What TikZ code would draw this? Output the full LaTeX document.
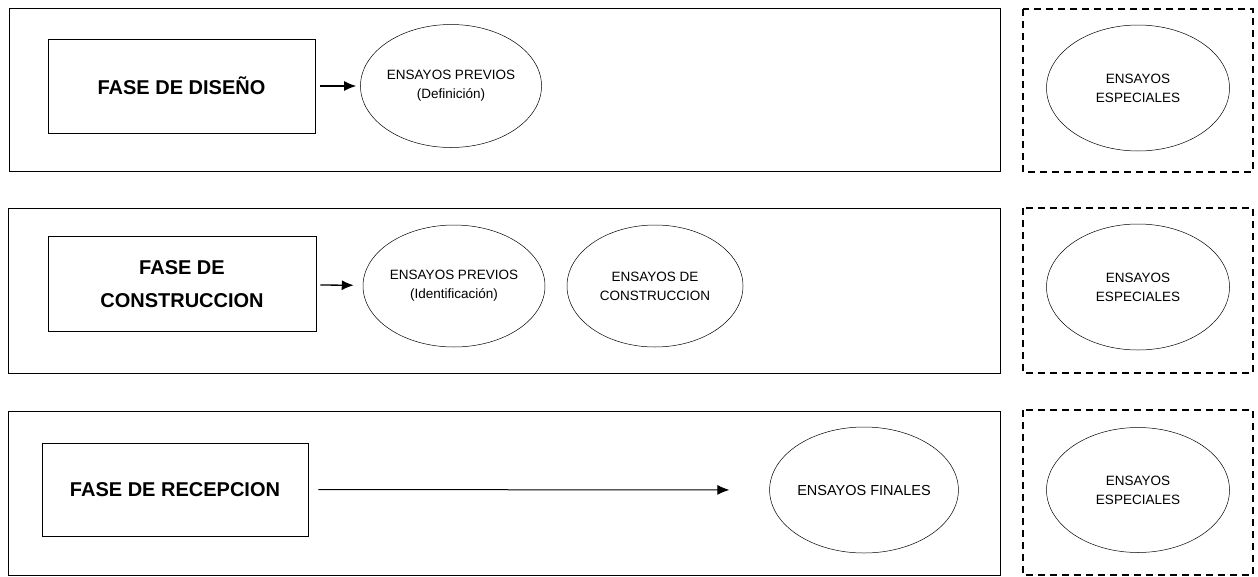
\documentclass[tikz,border=0pt]{standalone}
\usepackage{fontspec}
\setmainfont{Liberation Sans}
\usetikzlibrary{shapes.geometric,arrows.meta}

\begin{document}
\begin{tikzpicture}[x=1pt,y=-1pt,
  fase/.style={draw, line width=0.9pt, inner sep=0pt, align=center, font=\fontsize{20}{33}\selectfont\bfseries},
  ensayo/.style={draw, ellipse, line width=0.5pt, inner sep=0pt, align=center, font=\fontsize{13.5}{19}\selectfont},
  marco/.style={line width=0.9pt},
  especial/.style={line width=1.5pt, dash pattern=on 7pt off 5pt}]

\useasboundingbox (0,0) rectangle (1258,576);

% Fase de diseno
\draw [marco] (9,8) rectangle (1000,171);
\node [fase, minimum width=267pt, minimum height=94pt] (diseno) at (181.5,86) {FASE DE DISEÑO};
\node [ensayo, minimum width=178pt, minimum height=123pt] (previosA) at (451,86) {ENSAYOS PREVIOS\\(Definición)};
\draw [->,>={Latex[length=12pt,width=10pt]}, line width=1.3pt, shorten <=5pt, shorten >=4pt] (diseno) -- (previosA);

% Fase de construccion
\draw [marco] (8,208) rectangle (1000,373);
\node [fase, minimum width=268pt, minimum height=95pt] (construccion) at (182,284) {FASE DE\\CONSTRUCCION};
\node [ensayo, minimum width=182pt, minimum height=122pt] (previosB) at (454,286) {ENSAYOS PREVIOS\\(Identificación)};
\node [ensayo, minimum width=176pt, minimum height=122pt] (obra) at (655,286) {ENSAYOS DE\\CONSTRUCCION};
\draw [->,>={Latex[length=12pt,width=10pt]}, line width=1.3pt, shorten <=4pt, shorten >=9pt] (construccion) -- (previosB);

% Fase de recepcion
\draw [marco] (8,411) rectangle (1000,575);
\node [fase, minimum width=266pt, minimum height=93pt] (recepcion) at (175,489.5) {FASE DE RECEPCION};
\node [ensayo, minimum width=182pt, minimum height=126pt, font=\fontsize{14.5}{19}\selectfont] (finales) at (864,490) {ENSAYOS FINALES};
\draw [->,>={Latex[length=12pt,width=10pt]}, line width=1pt, shorten <=10pt, shorten >=40pt] (recepcion) -- (finales);

% Ensayos especiales
\draw [especial] (1023,9) rectangle (1253,172);
\node [ensayo, minimum width=183pt, minimum height=126pt] (especialA) at (1138,88) {ENSAYOS\\ESPECIALES};
\draw [especial] (1023,208) rectangle (1253,373);
\node [ensayo, minimum width=183pt, minimum height=126pt] (especialB) at (1138,287) {ENSAYOS\\ESPECIALES};
\draw [especial] (1023,410) rectangle (1253,575);
\node [ensayo, minimum width=183pt, minimum height=125pt] (especialC) at (1138,490) {ENSAYOS\\ESPECIALES};

\end{tikzpicture}
\end{document}
